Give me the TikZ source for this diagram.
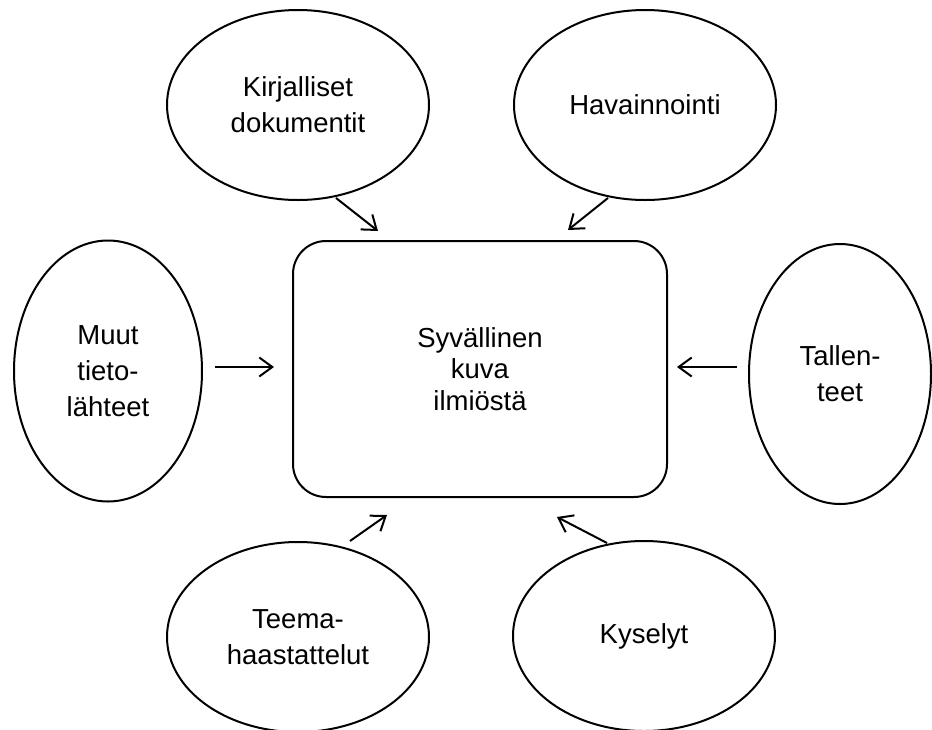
\documentclass[tikz,border=0pt]{standalone}
\usepackage{fontspec}
\setmainfont{Liberation Sans}
\usetikzlibrary{shapes.geometric,arrows.meta}
\begin{document}
\begin{tikzpicture}[x=1pt,y=-1pt,
  source/.style={draw,ellipse,line width=2pt,inner sep=0pt,align=center,
    font=\fontsize{27.5}{36}\selectfont},
  core/.style={draw,rectangle,rounded corners=33pt,line width=2pt,inner sep=0pt,
    align=center,minimum width=374pt,minimum height=256pt,
    font=\fontsize{27.5}{31.5}\selectfont},
  feed/.style={line width=2pt,-{Straight Barb[length=13pt,width=19pt,line width=2pt]}}]
\useasboundingbox (0,0) rectangle (932,729);

% central result
\node[core] (kuva) at (480,369) {Syvällinen\\kuva\\ilmiöstä};

% data sources
\node[source,minimum width=262pt,minimum height=190pt] (kirj) at (298,105) {Kirjalliset\\dokumentit};
\node[source,minimum width=262pt,minimum height=190pt] (hav) at (645,105) {Havainnointi};
\node[source,minimum width=188pt,minimum height=261pt] (muut) at (108,371) {Muut\\tieto-\\lähteet};
\node[source,minimum width=182pt,minimum height=260pt] (tall) at (840,374) {Tallen-\\teet};
\node[source,minimum width=262pt,minimum height=190pt] (teema) at (298,637) {Teema-\\haastattelut};
\node[source,minimum width=262pt,minimum height=190pt] (kys) at (644,636) {Kyselyt};

% arrow end points
\coordinate (kirjA) at (336,198);  \coordinate (kirjB) at (378,231);
\coordinate (havA)  at (608,198);  \coordinate (havB)  at (568,230);
\coordinate (muutA) at (215,367);  \coordinate (muutB) at (274,367);
\coordinate (tallA) at (737,367);  \coordinate (tallB) at (677,367);
\coordinate (teemaA) at (350,541); \coordinate (teemaB) at (387,515);
\coordinate (kysA)  at (607,543);  \coordinate (kysB)  at (557,517);

\draw[feed] (kirjA) -- (kirjB);
\draw[feed] (havA) -- (havB);
\draw[feed] (muutA) -- (muutB);
\draw[feed] (tallA) -- (tallB);
\draw[feed] (teemaA) -- (teemaB);
\draw[feed] (kysA) -- (kysB);
\end{tikzpicture}
\end{document}
